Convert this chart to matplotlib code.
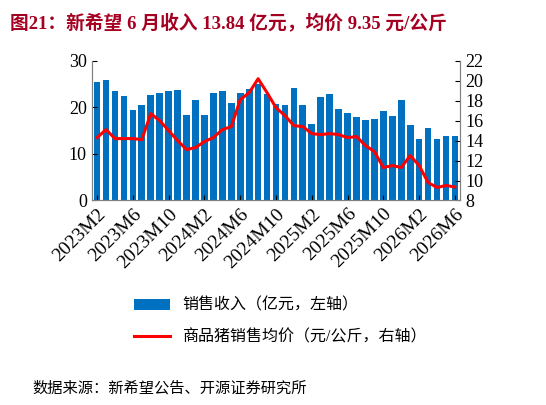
import matplotlib.pyplot as plt
import numpy as np

plt.rcParams['font.family'] = ['Liberation Serif', 'Noto Sans CJK SC']

months = []
for y in (2023, 2024, 2025, 2026):
    for m in range(1, 13):
        if (y == 2023 and m < 2) or (y == 2026 and m > 6):
            continue
        months.append(f"{y}M{m}")

revenue = [25.4, 25.8, 23.6, 22.4, 19.5, 20.6, 22.6, 23.1, 23.4, 23.8, 18.4,
           21.6, 18.4, 23.0, 23.4, 20.9, 23.1, 23.9, 25.0, 22.9, 20.8, 20.5,
           24.1, 20.6, 16.4, 22.3, 22.9, 19.7, 18.8, 18.0, 17.2, 17.4, 19.2,
           18.1, 21.5, 16.3, 13.2, 15.5, 13.1, 13.9, 13.84]
price = [14.3, 15.1, 14.2, 14.2, 14.2, 14.1, 16.7, 16.0, 15.0, 14.0, 13.1,
         13.3, 13.9, 14.3, 15.1, 15.4, 18.1, 18.8, 20.2, 18.8, 17.3, 16.5,
         15.5, 15.4, 14.7, 14.6, 14.7, 14.6, 14.3, 14.4, 13.5, 12.9, 11.3,
         11.5, 11.3, 12.5, 11.5, 9.8, 9.3, 9.5, 9.35]

x = np.arange(len(months))
fig = plt.figure(figsize=(5.46, 4.05), dpi=100)
ax = fig.add_axes([0.168, 0.505, 0.675, 0.345])
ax.bar(x, revenue, width=0.75, color='#0070C0', label='销售收入（亿元，左轴）')
ax.set_ylim(0, 30)
ax.set_yticks([0, 10, 20, 30])
ax.set_xlim(-0.6, len(months) - 0.4)
ax.set_xticks(x[::4])
ax.set_xticklabels(months[::4], rotation=45, ha='right', rotation_mode='anchor', fontsize=14)
ax.tick_params(axis='y', labelsize=13, direction='in')
ax.tick_params(axis='x', direction='in')
ax2 = ax.twinx()
ax2.plot(x, price, color='#FF0000', lw=2.2, label='商品猪销售均价（元/公斤，右轴）')
ax2.set_ylim(8, 22)
ax2.set_yticks(range(8, 23, 2))
ax2.tick_params(axis='y', labelsize=13, direction='in')
for a in (ax, ax2):
    a.spines['top'].set_visible(False)
    for s in ('left', 'right', 'bottom'):
        a.spines[s].set_color('#808080')

h1, l1 = ax.get_legend_handles_labels()
h2, l2 = ax2.get_legend_handles_labels()
fig.legend(h1 + h2, l1 + l2, loc='upper left', bbox_to_anchor=(0.22, 0.3),
           frameon=False, fontsize=11.5, labelspacing=1.0, handlelength=2.2)

fig.text(0.018, 0.965, '图21：新希望 6 月收入 13.84 亿元，均价 9.35 元/公斤',
         fontsize=13.5, fontweight='bold', color='#A50021', va='top')
fig.text(0.06, 0.03, '数据来源：新希望公告、开源证券研究所', fontsize=11)
fig.savefig('out.png', dpi=100)
